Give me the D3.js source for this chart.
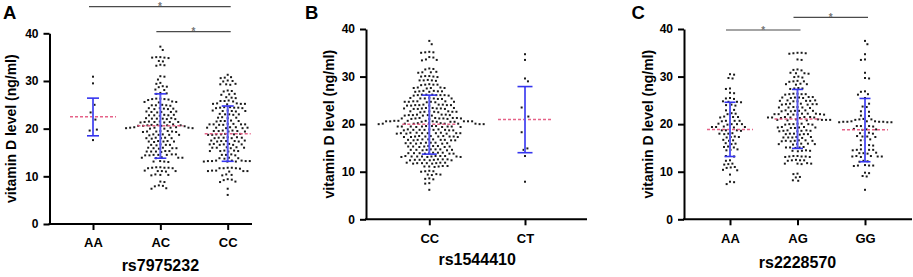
<!DOCTYPE html>
<html><head><meta charset="utf-8">
<script src="https://cdn.jsdelivr.net/npm/d3@7"></script>
<style>
html,body{margin:0;padding:0;background:#fff;}
text{font-family:"Liberation Sans",Arial,sans-serif;font-weight:bold;}
</style></head>
<body><svg id="chart" width="913" height="277"></svg>
<script>
// ---------------- DATA ----------------
const yTicks = [0, 10, 20, 30, 40];
const yLabel = "vitamin D level (ng/ml)";

// Panel A: rs7975232
const catsA = ["AA", "AC", "CC"];
const titleA = "rs7975232";
const vitA_AA = [30.9, 29.5, 25.8, 25.0, 24.1, 23.4, 22.6, 21.9, 21.2, 20.1, 19.8, 19.6, 18.8, 17.6];
const vitA_AC = [37.2, 36.5, 35.0, 34.9, 34.9, 34.8, 35.0, 34.2, 34.1, 33.4, 33.3, 33.2,
  31.0, 30.9, 30.3, 29.6, 29.4, 28.9, 28.8, 28.7, 28.2, 28.1, 27.5, 27.4, 27.3,
  26.3, 26.2, 26.2, 26.1, 26.3, 26.0, 25.7, 25.6, 25.5, 25.6,
  24.9, 25.0, 24.8, 24.9, 24.9, 24.3, 24.2, 24.1, 24.2, 24.3, 24.1,
  23.5, 23.6, 23.4, 23.5, 23.5, 23.6, 22.8, 22.9, 22.7, 22.8, 22.8, 22.9,
  22.1, 22.0, 22.2, 22.1, 22.1, 22.2, 22.0, 21.4, 21.5, 21.3, 21.4, 21.4, 21.5, 21.3, 21.4,
  20.6, 20.7, 20.8, 20.7, 20.5, 20.9, 20.6, 20.8, 20.7, 20.6,
  20.2, 20.1, 20.3, 20.2, 20.0, 20.2, 20.1, 20.3, 20.2, 20.0,
  19.4, 19.5, 19.3, 19.4, 19.4, 19.5, 19.3, 18.7, 18.8, 18.6, 18.7, 18.7, 18.8,
  18.0, 18.1, 17.9, 18.0, 18.0, 18.1, 17.3, 17.4, 17.2, 17.3, 17.3, 17.4,
  16.6, 16.7, 16.5, 16.6, 16.6, 15.9, 16.0, 15.8, 15.9, 15.9, 16.0,
  15.2, 15.3, 15.1, 15.2, 15.2, 15.3, 14.5, 14.6, 14.4, 14.5, 14.5, 14.6, 14.4,
  13.9, 13.8, 14.0, 13.9, 13.9, 13.1, 13.2, 13.0, 13.1,
  11.8, 11.9, 11.7, 11.8, 11.8, 11.9, 11.7, 11.1, 11.2, 11.0, 11.1, 11.1,
  10.3, 10.4, 10.2, 10.3, 8.9, 8.8, 8.0, 8.1, 7.9, 7.5, 7.4];
const vitA_CC = [31.3, 30.7, 30.8, 30.6, 30.0, 30.1, 29.9, 29.3, 29.4, 29.2, 29.3,
  27.9, 28.0, 27.8, 27.2, 27.3, 27.1, 26.5, 26.6, 26.4,
  25.8, 25.9, 25.7, 25.8, 25.2, 25.3, 25.1, 25.2, 25.2, 25.3,
  24.4, 24.5, 24.3, 24.4, 24.4, 24.5, 24.3, 23.7, 23.8, 23.6, 23.7, 23.7, 23.8,
  23.0, 23.1, 22.9, 23.0, 23.0, 22.3, 22.4, 22.2, 22.3,
  21.6, 21.7, 21.5, 21.6, 21.6,
  20.9, 21.0, 20.8, 20.9, 20.9, 21.0, 20.8, 20.9,
  20.2, 20.3, 20.1, 20.2, 20.2, 20.3, 20.1,
  19.5, 19.6, 19.4, 19.5, 19.5, 19.6, 19.4,
  18.8, 18.9, 18.7, 18.8, 18.8, 18.9, 18.7,
  18.1, 18.2, 18.0, 18.1, 18.1, 18.2, 18.0,
  17.4, 17.5, 17.3, 17.4, 17.4, 17.5, 17.3,
  16.7, 16.8, 16.6, 16.7, 16.7, 16.8, 16.6,
  16.0, 16.1, 15.9, 16.0, 16.0, 16.1,
  15.3, 15.4, 15.2, 15.3, 15.3, 15.4,
  14.5, 14.6, 14.4, 14.5, 13.8, 13.9, 13.7, 13.8,
  13.2, 13.3, 13.1, 13.2, 13.2, 13.3, 13.1, 13.2, 13.3, 13.1,
  11.7, 11.8, 11.6, 11.7, 11.7, 11.8, 11.1, 11.2, 11.0, 11.1, 11.1, 11.2,
  10.3, 10.4, 10.2, 9.3, 9.2, 9.4, 8.9, 8.8, 7.4, 6.1];
const meanA = [22.5, 20.6, 18.95];
const sdLowA = [18.5, 13.8, 13.15];
const sdHighA = [26.4, 27.3, 24.75];
const sigA = [[0, 2], [1, 2]];

// Panel B: rs1544410
const catsB = ["CC", "CT"];
const titleB = "rs1544410";
const vitB_CC = [37.5, 36.8,
  35.1, 35.0, 35.2, 35.1, 34.0, 34.1, 33.5, 33.6, 33.4,
  31.6, 31.7, 31.5, 30.9, 31.0, 30.8, 30.9,
  30.0, 30.1, 29.9, 30.0, 30.1, 29.2, 29.3, 29.1, 29.2, 29.2,
  28.3, 28.4, 28.2, 28.3, 28.3, 27.6, 27.7, 27.5, 27.6, 27.6, 27.7,
  26.9, 27.0, 26.8, 26.9, 26.9, 27.0, 26.8,
  26.1, 26.2, 26.0, 26.1, 26.1, 26.2, 26.0, 26.1, 26.2,
  25.4, 25.5, 25.3, 25.4, 25.4, 25.5, 25.3, 25.4,
  24.7, 24.8, 24.6, 24.7, 24.7, 24.8, 24.6, 24.7, 24.8,
  24.0, 24.1, 23.9, 24.0, 24.0, 24.1, 23.9, 24.0, 24.1, 23.9,
  23.3, 23.4, 23.2, 23.3, 23.3, 23.4, 23.2, 23.3, 23.4, 23.2,
  22.6, 22.7, 22.5, 22.6, 22.6, 22.7, 22.5, 22.6, 22.7,
  21.9, 22.0, 21.8, 21.9, 21.9, 22.0, 21.8, 21.9, 22.0, 21.8,
  21.2, 21.3, 21.1, 21.2, 21.2, 21.3, 21.1, 21.2, 21.3, 21.1, 21.2, 21.3,
  20.6, 20.7, 20.5, 20.6, 20.6, 20.7, 20.5, 20.6, 20.7, 20.5, 20.6, 20.6, 20.7, 20.5,
  20.1, 20.0, 20.2, 20.1, 20.1, 20.0, 20.2, 20.1, 20.0, 20.2, 20.1, 20.1,
  19.5, 19.6, 19.4, 19.5, 19.5, 19.6, 19.4, 19.5, 19.6, 19.4, 19.5, 19.5,
  18.8, 18.9, 18.7, 18.8, 18.8, 18.9, 18.7, 18.8, 18.9, 18.7, 18.8,
  18.1, 18.2, 18.0, 18.1, 18.1, 18.2, 18.0, 18.1, 18.2, 18.0, 18.1, 18.1,
  17.4, 17.5, 17.3, 17.4, 17.4, 17.5, 17.3, 17.4, 17.5, 17.3, 17.4,
  16.7, 16.8, 16.6, 16.7, 16.7, 16.8, 16.6, 16.7, 16.8, 16.6,
  16.0, 16.1, 15.9, 16.0, 16.0, 16.1, 15.9, 16.0, 16.1,
  15.3, 15.4, 15.2, 15.3, 15.3, 15.4, 15.2, 15.3, 15.4,
  14.6, 14.7, 14.5, 14.6, 14.6, 14.7, 14.5, 14.6, 14.7,
  13.9, 14.0, 13.8, 13.9, 13.9, 14.0, 13.8, 13.9, 14.0, 13.8,
  13.2, 13.3, 13.1, 13.2, 13.2, 13.3, 13.1, 13.2, 13.3, 13.1, 13.2, 13.3,
  12.5, 12.6, 12.4, 12.5, 12.5, 12.6, 12.4, 12.5, 12.6, 12.4,
  11.8, 11.9, 11.7, 11.8, 11.8, 11.9, 11.7, 11.8, 11.9,
  11.1, 11.2, 11.0, 11.1, 11.1, 11.2,
  10.1, 10.2, 10.0, 10.1, 9.4, 9.5, 9.3, 9.4,
  8.5, 8.6, 8.4, 7.6, 7.5, 6.2];
const vitB_CT = [34.7, 33.5, 29.6, 29.0, 24.0, 23.5, 22.1, 21.6, 20.0, 18.8, 18.3, 17.4, 15.6, 14.9, 14.6, 13.3, 7.9];
const meanB = [20.0, 21.0];
const sdLowB = [13.7, 14.0];
const sdHighB = [26.1, 27.9];
const sigB = [];

// Panel C: rs2228570
const catsC = ["AA", "AG", "GG"];
const titleC = "rs2228570";
const vitC_AA = [30.5, 30.4, 29.6, 29.7, 27.5, 27.4, 26.5, 26.6,
  25.4, 25.5, 25.3, 24.7, 24.8, 24.6, 24.7, 24.0, 24.1, 23.9,
  23.0, 23.1, 22.9, 22.2, 22.3, 22.1, 21.5, 21.6, 21.4, 21.5,
  20.7, 20.8, 20.6, 20.7, 20.7, 20.0, 20.1, 19.9, 20.0, 20.0,
  19.4, 19.5, 19.3, 19.4, 19.4, 18.7, 18.8, 18.6, 18.7, 18.7,
  18.0, 18.1, 17.9, 18.0, 17.3, 17.4, 17.2, 17.3,
  16.6, 16.7, 16.5, 15.9, 16.0, 15.8, 15.2, 15.3, 15.1, 14.6, 14.7, 14.5,
  13.3, 13.4, 13.2, 12.3, 12.4, 11.6, 11.7, 11.5, 10.9, 11.0, 10.8,
  10.3, 10.4, 9.4, 7.9, 7.8, 7.4];
const vitC_AG = [34.9, 35.0, 34.8, 34.9, 35.0, 33.5, 33.6,
  31.4, 31.5, 31.3, 30.7, 30.8, 30.6, 30.7, 29.9, 30.0, 29.8,
  29.0, 29.1, 28.9, 29.0, 28.4, 28.5, 28.3, 28.4, 27.5, 27.6, 27.4, 27.5,
  26.3, 26.4, 26.2, 26.3, 26.3, 26.4, 25.6, 25.7, 25.5, 25.6, 25.6, 25.7, 25.5,
  24.9, 25.0, 24.8, 24.9, 24.9, 25.0, 24.8, 24.2, 24.3, 24.1, 24.2, 24.2, 24.3, 24.1,
  23.5, 23.6, 23.4, 23.5, 23.5, 23.6, 22.8, 22.9, 22.7, 22.8, 22.8, 22.9, 22.7,
  22.1, 22.2, 22.0, 22.1, 22.1, 22.2, 22.0, 22.1, 22.2, 22.0,
  21.4, 21.5, 21.3, 21.4, 21.4, 21.5, 21.3, 21.4, 21.5,
  20.9, 21.0, 20.8, 20.9, 20.9, 21.0, 20.8, 20.9,
  20.0, 20.1, 19.9, 20.0, 20.0, 20.1, 19.9, 19.3, 19.4, 19.2, 19.3, 19.3, 19.4, 19.2,
  18.6, 18.7, 18.5, 18.6, 18.6, 18.7, 18.5, 17.9, 18.0, 17.8, 17.9, 17.9, 18.0,
  17.2, 17.3, 17.1, 17.2, 17.2, 17.3, 16.5, 16.6, 16.4, 16.5, 16.5, 16.6, 16.4,
  15.8, 15.9, 15.7, 15.8, 15.8, 15.9, 15.1, 15.2, 15.0, 15.1, 15.1,
  14.4, 14.5, 14.3, 14.4, 14.4, 13.2, 13.3, 13.1, 13.2, 13.2, 13.3, 13.1,
  12.4, 12.5, 12.3, 12.4, 12.4, 11.7, 11.8, 11.6, 11.7, 11.7,
  9.5, 9.6, 8.9, 8.8, 8.2, 8.1];
const vitC_GG = [37.5, 36.8, 34.7, 33.6, 33.5, 30.8, 29.6, 29.7,
  26.8, 26.9, 26.2, 26.3, 25.5, 24.3, 24.4, 23.6, 23.7,
  22.7, 22.8, 22.6, 21.8, 21.9, 21.7, 21.0, 21.1, 20.9, 21.0,
  20.5, 20.6, 20.4, 20.5, 20.5, 20.6, 20.4, 20.5, 20.6, 20.4,
  19.6, 19.7, 19.5, 19.6, 19.6, 18.9, 19.0, 18.8, 18.9,
  18.1, 18.2, 18.0, 18.1, 17.4, 17.5, 17.3, 17.4, 16.7, 16.8, 16.6,
  15.6, 15.7, 15.5, 15.6, 14.6, 14.7, 14.5, 14.6, 14.6, 14.7,
  13.9, 14.0, 13.8, 13.9, 13.2, 13.3, 13.1, 13.2, 13.2, 13.3, 13.1,
  12.2, 12.3, 12.1, 11.3, 11.4, 11.2, 11.3, 11.3, 9.7, 9.8, 9.0, 9.1, 6.2];
const meanC = [18.9, 21.1, 18.8];
const sdLowC = [13.2, 14.9, 12.1];
const sdHighC = [24.6, 27.3, 25.4];
const sigC = [[0, 1], [1, 2]];

// ---------------- LAYOUT ----------------
const panels = [
  {letter: "A", lx: 3, ly: 18.5, cats: catsA, title: titleA, groups: [vitA_AA, vitA_AC, vitA_CC],
   mean: meanA, lo: sdLowA, hi: sdHighA, sig: sigA, sigY: [6.7, 31.7],
   axX: 49.5, axR: 252, yT: 33.3, yB: 224, c0: 93, c1: 227.7, titleY: 271, yTitleX: 11,
   cap: 6, meanHW: 23},
  {letter: "B", lx: 305, ly: 18.5, cats: catsB, title: titleB, groups: [vitB_CC, vitB_CT],
   mean: meanB, lo: sdLowB, hi: sdHighB, sig: sigB, sigY: [],
   axX: 366, axR: 587, yT: 29, yB: 219.3, c0: 429.3, c1: 525, titleY: 265, yTitleX: 329,
   cap: 7.5, meanHW: 27},
  {letter: "C", lx: 631.5, ly: 18.5, cats: catsC, title: titleC, groups: [vitC_AA, vitC_AG, vitC_GG],
   mean: meanC, lo: sdLowC, hi: sdHighC, sig: sigC, sigY: [30, 17.3],
   axX: 684, axR: 912, yT: 29, yB: 219.3, c0: 730, c1: 865, titleY: 268.3, yTitleX: 647.5,
   cap: 5.5, meanHW: 23}
];

const svg = d3.select("#chart");
const DOT = 4.1; // min distance between dots

function swarm(vals, cx, y) {
  const pts = vals.map(v => ({v, y: y(v)})).sort((a, b) => a.y - b.y);
  const placed = [];
  let flip = 1;
  for (const p of pts) {
    const near = placed.filter(q => Math.abs(q.y - p.y) < DOT);
    const cands = [0];
    for (const q of near) {
      const dx = Math.sqrt(DOT * DOT - (q.y - p.y) ** 2);
      cands.push(q.dx + dx + 0.01, q.dx - dx - 0.01);
    }
    const ok = cands.filter(c => near.every(q => (q.dx - c) ** 2 + (q.y - p.y) ** 2 >= DOT * DOT - 0.05));
    ok.sort((a, b) => Math.abs(a) - Math.abs(b) || (flip * (b - a)));
    let best = ok[0];
    const twin = ok.find(c => Math.abs(Math.abs(c) - Math.abs(best)) < 0.02 && Math.sign(c) !== Math.sign(best));
    if (twin !== undefined && Math.sign(best) !== flip) best = twin;
    if (best !== 0) flip = -flip;
    p.dx = best;
    placed.push(p);
  }
  return placed.map(p => ({x: cx + p.dx, y: p.y}));
}

panels.forEach(P => {
  const g = svg.append("g");
  const y = d3.scaleLinear().domain([0, 40]).range([P.yB, P.yT]);
  const x = d3.scalePoint().domain(P.cats).range([P.c0, P.c1]);

  // dots
  P.groups.forEach((vals, i) => {
    const pos = swarm(vals, x(P.cats[i]), y);
    g.append("g").selectAll("rect").data(pos).join("rect")
      .attr("x", d => d.x - 1).attr("y", d => d.y - 1)
      .attr("width", 2).attr("height", 2).attr("fill", "#1a1a1a");
  });

  // mean lines
  g.append("g").selectAll("line").data(P.mean).join("line")
    .attr("x1", (d, i) => x(P.cats[i]) - P.meanHW).attr("x2", (d, i) => x(P.cats[i]) + P.meanHW)
    .attr("y1", d => y(d)).attr("y2", d => y(d))
    .attr("stroke", "#e4527c").attr("stroke-width", 1.5).attr("stroke-dasharray", "3,2").attr("opacity", 0.9);

  // SD bars
  const eb = g.append("g");
  P.cats.forEach((c, i) => {
    const cx = x(c);
    eb.append("line").attr("x1", cx).attr("x2", cx).attr("y1", y(P.lo[i])).attr("y2", y(P.hi[i]))
      .attr("stroke", "#5b5bf2").attr("stroke-width", 2);
    [P.lo[i], P.hi[i]].forEach(v => {
      eb.append("line").attr("x1", cx - P.cap).attr("x2", cx + P.cap).attr("y1", y(v)).attr("y2", y(v))
        .attr("stroke", "#3535ee").attr("stroke-width", 1.6);
    });
  });

  // y axis
  const ya = g.append("g").attr("transform", `translate(${P.axX},0)`)
    .call(d3.axisLeft(y).tickValues(yTicks).tickSize(6).tickSizeOuter(0).tickPadding(5));
  ya.select(".domain").attr("stroke-width", 2).attr("stroke", "#000");
  ya.selectAll(".tick line").attr("stroke-width", 2).attr("stroke", "#000");
  ya.selectAll(".tick text").attr("font-size", 12).attr("fill", "#000")
    .style("font-family", "'Liberation Sans',Arial,sans-serif").style("font-weight", "bold");

  // x axis
  const xa = g.append("g").attr("transform", `translate(0,${P.yB})`)
    .call(d3.axisBottom(x).tickSize(6).tickSizeOuter(0).tickPadding(8));
  xa.select(".domain").remove();
  xa.selectAll(".tick line").attr("stroke-width", 2).attr("stroke", "#000");
  xa.selectAll(".tick text").attr("font-size", 13).attr("fill", "#000")
    .style("font-family", "'Liberation Sans',Arial,sans-serif").style("font-weight", "bold");
  g.append("line").attr("x1", P.axX - 1).attr("x2", P.axR).attr("y1", P.yB).attr("y2", P.yB)
    .attr("stroke", "#000").attr("stroke-width", 2);

  // titles
  g.append("text").attr("x", (P.c0 + P.c1) / 2).attr("y", P.titleY).attr("text-anchor", "middle")
    .attr("font-size", 16).text(P.title);
  g.append("text").attr("transform", `translate(${P.yTitleX},${(P.yT + P.yB) / 2}) rotate(-90)`)
    .attr("text-anchor", "middle").attr("dy", "0.36em").attr("font-size", 14).text(yLabel);
  g.append("text").attr("x", P.lx).attr("y", P.ly).attr("font-size", 18.5).text(P.letter);

  // significance bars
  P.sig.forEach((s, k) => {
    const x1 = x(P.cats[s[0]]) - 4, x2 = x(P.cats[s[1]]) + 3, yy = P.sigY[k];
    g.append("line").attr("x1", x1).attr("x2", x2).attr("y1", yy).attr("y2", yy)
      .attr("stroke", "#4a4a4a").attr("stroke-width", 1.2);
    g.append("text").attr("x", (x1 + x2) / 2).attr("y", yy + 3.5).attr("text-anchor", "middle")
      .attr("font-size", 10).attr("font-weight", "normal").attr("fill", "#777").text("*");
  });
});
</script></body></html>
